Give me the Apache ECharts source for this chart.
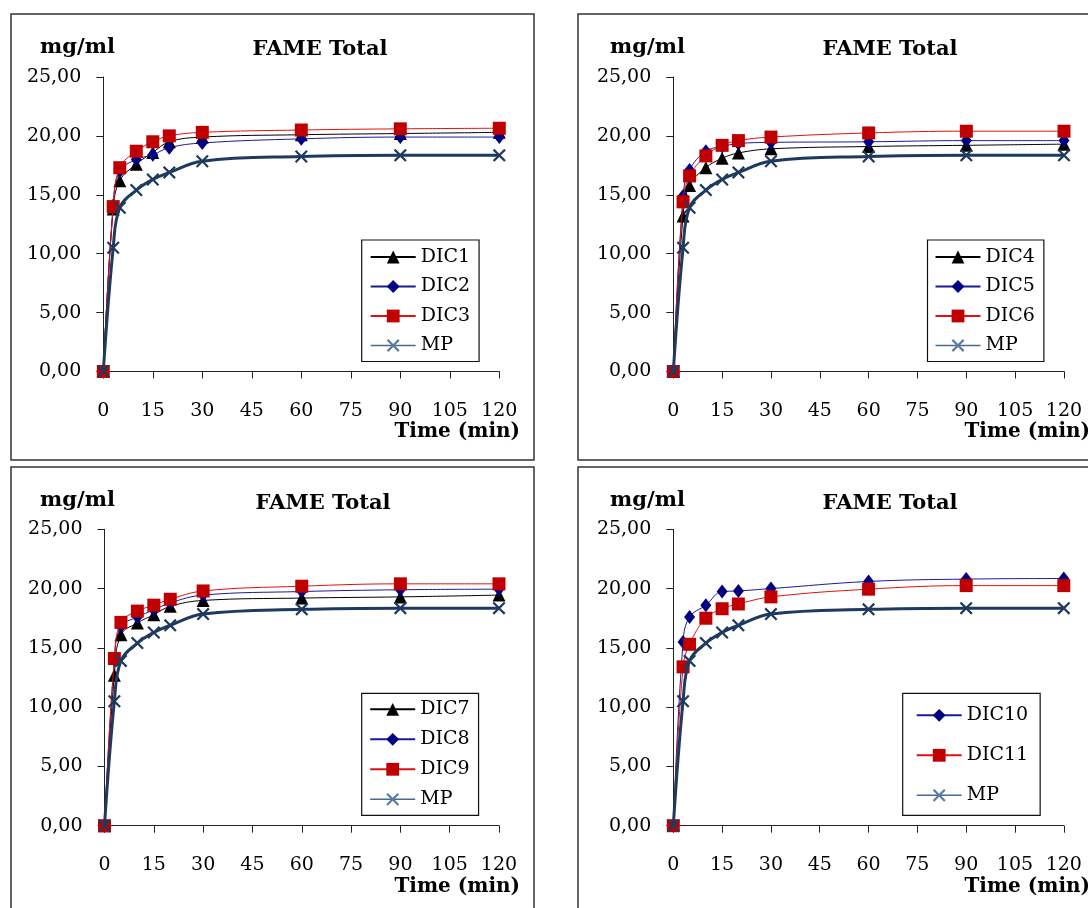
<!DOCTYPE html>
<html>
<head>
<meta charset="utf-8">
<script src="https://cdn.jsdelivr.net/npm/echarts@6/dist/echarts.min.js"></script>
<style>
html,body{margin:0;padding:0;background:#fff;}
#c{width:1088px;height:908px;}
</style>
</head>
<body>
<div id="c"></div>
<script>
// ---- data ----
const times = [0, 3, 5, 10, 15, 20, 30, 60, 90, 120];
const mp    = [0, 10.5, 13.9, 15.4, 16.3, 16.9, 17.85, 18.25, 18.35, 18.35];
const dic1  = [0, 13.8, 16.2, 17.6, 18.6, 19.5, 19.9, 20.1, 20.2, 20.3];
const dic2  = [0, 14.1, 17.0, 18.0, 18.4, 19.0, 19.4, 19.75, 19.9, 19.9];
const dic3  = [0, 14.0, 17.3, 18.7, 19.5, 20.0, 20.3, 20.5, 20.6, 20.65];
const dic4  = [0, 13.2, 15.8, 17.3, 18.1, 18.55, 18.9, 19.1, 19.2, 19.3];
const dic5  = [0, 14.9, 17.1, 18.7, 19.1, 19.35, 19.45, 19.5, 19.6, 19.6];
const dic6  = [0, 14.4, 16.6, 18.3, 19.2, 19.6, 19.9, 20.25, 20.4, 20.4];
const dic7  = [0, 12.7, 16.1, 17.1, 17.8, 18.5, 19.0, 19.2, 19.3, 19.45];
const dic8  = [0, 14.0, 16.8, 17.6, 18.2, 18.8, 19.45, 19.75, 19.9, 19.95];
const dic9  = [0, 14.1, 17.15, 18.1, 18.6, 19.1, 19.8, 20.2, 20.4, 20.4];
const dic10 = [0, 15.5, 17.6, 18.6, 19.75, 19.8, 20.0, 20.6, 20.8, 20.85];
const dic11 = [0, 13.4, 15.3, 17.5, 18.3, 18.7, 19.3, 19.95, 20.25, 20.25];
const chartTitle = 'FAME Total';
const yUnit = 'mg/ml';
const xName = 'Time (min)';

// ---- styles ----
const SERIF = '"DejaVu Serif", "Liberation Serif", serif';
const X_PATH = 'path://M0,1.2 L1.2,0 L5,3.8 L8.8,0 L10,1.2 L6.2,5 L10,8.8 L8.8,10 L5,6.2 L1.2,10 L0,8.8 L3.8,5 Z';
const styles = {
  black: {symbol: 'triangle', symbolSize: 13, line: '#000000', item: '#000000', width: 1},
  blue:  {symbol: 'diamond', symbolSize: [11, 14], line: '#1a1a9a', item: '#000080', width: 1},
  red:   {symbol: 'rect', symbolSize: 13, line: '#e01010', item: '#c00000', width: 1},
  mp:    {symbol: X_PATH, symbolSize: 13, line: '#1f3a5f', item: '#1f3a5f', width: 3}
};

const panels = [
  {grid: {left: 103.3, top: 77, width: 396, height: 294.5}, ox: 0, oy: 0,
   series: [['DIC1', dic1, 'black'], ['DIC2', dic2, 'blue'], ['DIC3', dic3, 'red'], ['MP', mp, 'mp']],
   legend: {left: 361.7, top: 240, pad: [7, 9, 6, 8], gap: 9.5}},
  {grid: {left: 673.3, top: 77, width: 390.7, height: 294.5}, ox: 570, oy: 0,
   series: [['DIC4', dic4, 'black'], ['DIC5', dic5, 'blue'], ['DIC6', dic6, 'red'], ['MP', mp, 'mp']],
   legend: {left: 927.5, top: 240, pad: [7, 9, 6, 7], gap: 9.5}},
  {grid: {left: 104.5, top: 529.3, width: 394.5, height: 296.4}, ox: 0, oy: 453,
   series: [['DIC7', dic7, 'black'], ['DIC8', dic8, 'blue'], ['DIC9', dic9, 'red'], ['MP', mp, 'mp']],
   legend: {left: 361.7, top: 693.3, pad: [6, 9, 6, 7.5], gap: 10}},
  {grid: {left: 673.3, top: 529.3, width: 390.5, height: 296.4}, ox: 570, oy: 453,
   series: [['DIC10', dic10, 'blue'], ['DIC11', dic11, 'red'], ['MP', mp, 'mp']],
   legend: {left: 902.7, top: 693.3, pad: [12, 12, 10, 13], gap: 20}}
];

const fmt = v => v.toFixed(2).replace('.', ',');

const option = {
  animation: false,
  backgroundColor: '#ffffff',
  grid: [], xAxis: [], yAxis: [], series: [], legend: [], graphic: []
};

panels.forEach((p, i) => {
  option.grid.push(p.grid);
  option.xAxis.push({
    gridIndex: i, type: 'value', min: 0, max: 120, interval: 15,
    axisLine: {show: true, onZero: false, lineStyle: {color: '#222', width: 1}},
    axisTick: {show: true, inside: false, length: 7, lineStyle: {color: '#222'}},
    splitLine: {show: false},
    axisLabel: {margin: 30, color: '#000', fontFamily: SERIF, fontSize: 19}
  });
  option.yAxis.push({
    gridIndex: i, type: 'value', min: 0, max: 25, interval: 5,
    axisLine: {show: true, onZero: false, lineStyle: {color: '#222', width: 1}},
    axisTick: {show: true, inside: false, length: 7, lineStyle: {color: '#222'}},
    splitLine: {show: false},
    axisLabel: {margin: 22, color: '#000', fontFamily: SERIF, fontSize: 19, formatter: fmt}
  });
  const names = [];
  p.series.forEach(([name, vals, sk]) => {
    const s = styles[sk];
    names.push(name);
    option.series.push({
      name: name, type: 'line', xAxisIndex: i, yAxisIndex: i,
      data: times.map((t, k) => [t, vals[k]]),
      smooth: 0.4,
      symbol: s.symbol, symbolSize: s.symbolSize, showSymbol: true,
      lineStyle: {color: s.line, width: s.width},
      itemStyle: {color: s.item},
      z: sk === 'mp' ? 4 : (sk === 'red' ? 3 : 2)
    });
  });
  option.legend.push({
    left: p.legend.left, top: p.legend.top, orient: 'vertical',
    padding: p.legend.pad, itemGap: p.legend.gap,
    itemWidth: 45, itemHeight: 16,
    borderColor: '#111', borderWidth: 1.2, borderRadius: 0,
    backgroundColor: '#fff',
    textStyle: {fontFamily: SERIF, fontSize: 19, color: '#000', lineHeight: 20},
    selectedMode: false,
    data: names.map(n => n === 'MP'
      ? {name: n, lineStyle: {width: 1.5, color: '#4a6a90'}, itemStyle: {color: '#5a7aa0'}}
      : {name: n})
  });
  // panel frame
  option.graphic.push({
    type: 'rect', silent: true, z: -10,
    shape: {x: 11 + p.ox + (p.ox ? -3 : 0), y: 14 + p.oy, width: 523 + (p.ox ? 20 : 0), height: 446 + (p.oy ? 20 : 0)},
    style: {fill: 'none', stroke: '#333', lineWidth: 1.5}
  });
  // y unit
  option.graphic.push({
    type: 'text', silent: true,
    x: 77.5 + p.ox, y: 48 + p.oy,
    style: {text: yUnit, font: 'bold 21px ' + SERIF, fill: '#000', textAlign: 'center', textVerticalAlign: 'middle'}
  });
  // title
  option.graphic.push({
    type: 'text', silent: true,
    x: 320 + p.ox + (i === 2 ? 3 : 0), y: 50 + p.oy + (p.oy ? 1 : 0),
    style: {text: chartTitle, font: 'bold 21px ' + SERIF, fill: '#000', textAlign: 'center', textVerticalAlign: 'middle'}
  });
  // x axis name
  option.graphic.push({
    type: 'text', silent: true,
    x: 520 + p.ox, y: 432 + p.oy + (p.oy ? 2 : 0),
    style: {text: xName, font: 'bold 20px ' + SERIF, fill: '#000', textAlign: 'right', textVerticalAlign: 'middle'}
  });
});

const chart = echarts.init(document.getElementById('c'), null, {renderer: 'canvas'});
chart.setOption(option);
</script>
</body>
</html>
